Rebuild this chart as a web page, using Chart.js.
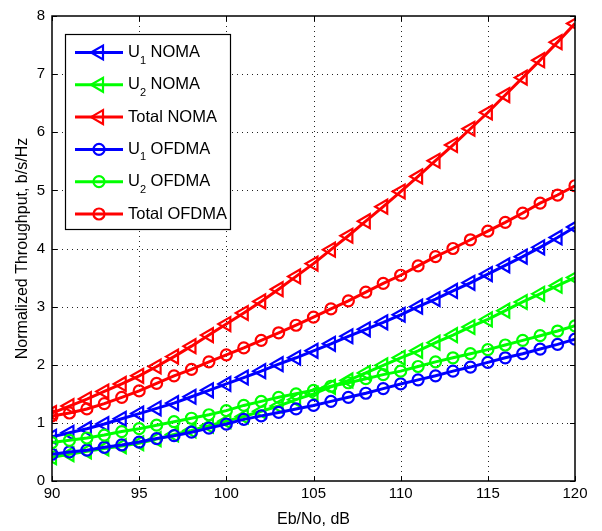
<!DOCTYPE html>
<html>
<head>
<meta charset="utf-8">
<script src="https://cdn.jsdelivr.net/npm/chart.js@4.4.0/dist/chart.umd.min.js"></script>
<style>
html,body{margin:0;padding:0;background:#fff;}
#wrap{width:602px;height:531px;}
</style>
</head>
<body>
<div id="wrap"><canvas id="c" width="602" height="531"></canvas></div>
<script>
const snr = [90,91,92,93,94,95,96,97,98,99,100,101,102,103,104,105,106,107,108,109,110,111,112,113,114,115,116,117,118,119,120];
const u1Noma = [0.76,0.83,0.90,0.98,1.07,1.16,1.25,1.34,1.45,1.56,1.67,1.78,1.89,2.01,2.12,2.24,2.36,2.49,2.61,2.73,2.86,3.00,3.13,3.27,3.41,3.56,3.71,3.86,4.02,4.19,4.37];
const u2Noma = [0.41,0.46,0.51,0.56,0.60,0.65,0.72,0.80,0.87,0.95,1.03,1.11,1.20,1.29,1.40,1.50,1.62,1.73,1.86,1.99,2.12,2.24,2.38,2.51,2.65,2.78,2.93,3.08,3.22,3.36,3.50];
const totalNoma = [1.17,1.29,1.41,1.54,1.67,1.81,1.97,2.14,2.32,2.51,2.70,2.89,3.09,3.30,3.52,3.74,3.98,4.22,4.47,4.72,4.98,5.24,5.51,5.78,6.06,6.34,6.64,6.94,7.24,7.55,7.87];
const u1Ofdma = [0.46,0.50,0.53,0.58,0.62,0.67,0.73,0.78,0.84,0.91,0.98,1.06,1.12,1.18,1.24,1.30,1.37,1.44,1.51,1.59,1.67,1.74,1.81,1.89,1.96,2.04,2.12,2.19,2.27,2.35,2.44];
const u2Ofdma = [0.66,0.70,0.74,0.79,0.85,0.90,0.96,1.02,1.08,1.14,1.21,1.30,1.37,1.44,1.50,1.56,1.63,1.69,1.76,1.83,1.89,1.97,2.05,2.12,2.19,2.26,2.34,2.42,2.50,2.58,2.67];
const totalOfdma = [1.12,1.17,1.24,1.33,1.44,1.55,1.68,1.81,1.92,2.05,2.17,2.29,2.42,2.55,2.68,2.82,2.96,3.10,3.25,3.40,3.54,3.70,3.86,4.00,4.15,4.30,4.45,4.61,4.78,4.92,5.08];
const xTicks = [90,95,100,105,110,115,120];
const yTicks = [0,1,2,3,4,5,6,7,8];

const labels = [["U","1"," NOMA"],["U","2"," NOMA"],["Total NOMA"],["U","1"," OFDMA"],["U","2"," OFDMA"],["Total OFDMA"]];
const series = [u1Noma,u2Noma,totalNoma,u1Ofdma,u2Ofdma,totalOfdma];
const colors = ['#0000ff','#00ff00','#ff0000','#0000ff','#00ff00','#ff0000'];
const FONT = '"Liberation Sans", Arial, Helvetica, sans-serif';

const datasets = series.map((s,i)=>{
  const tri = i < 3;
  return {
    label: labels[i].join(''),
    data: snr.map((x,k)=>({x:x,y:s[k]})),
    borderColor: colors[i],
    backgroundColor: 'rgba(0,0,0,0)',
    borderWidth: 3,
    pointStyle: tri ? 'triangle' : 'circle',
    pointRotation: tri ? -90 : 0,
    pointRadius: tri ? 8 : 5.5,
    pointBorderWidth: 2.2,
    pointBackgroundColor: 'rgba(0,0,0,0)',
    pointBorderColor: colors[i],
    tension: 0,
    order: 6 - i
  };
});

const frame = {
  id:'frame',
  beforeDatasetsDraw(chart){
    const ctx = chart.ctx, a = chart.chartArea;
    const xs = chart.scales.x, ys = chart.scales.y;
    ctx.save();
    ctx.strokeStyle = '#222';
    ctx.lineWidth = 1;
    ctx.setLineDash([1,4]);
    xTicks.slice(1,-1).forEach(v=>{
      const px = Math.round(xs.getPixelForValue(v))+0.5;
      ctx.beginPath(); ctx.moveTo(px,a.top); ctx.lineTo(px,a.bottom); ctx.stroke();
    });
    yTicks.slice(1,-1).forEach(v=>{
      const py = Math.round(ys.getPixelForValue(v))+0.5;
      ctx.beginPath(); ctx.moveTo(a.left,py); ctx.lineTo(a.right,py); ctx.stroke();
    });
    ctx.restore();
  },
  afterDraw(chart){
    const ctx = chart.ctx, a = chart.chartArea;
    const xs = chart.scales.x, ys = chart.scales.y;
    ctx.save();
    ctx.strokeStyle = '#000';
    ctx.lineWidth = 1.5;
    ctx.setLineDash([]);
    ctx.strokeRect(a.left, a.top, a.right-a.left, a.bottom-a.top);
    ctx.lineWidth = 1;
    const tl = 5;
    xTicks.forEach(v=>{
      const px = Math.round(xs.getPixelForValue(v))+0.5;
      ctx.beginPath();
      ctx.moveTo(px,a.bottom); ctx.lineTo(px,a.bottom-tl);
      ctx.moveTo(px,a.top); ctx.lineTo(px,a.top+tl);
      ctx.stroke();
    });
    yTicks.forEach(v=>{
      const py = Math.round(ys.getPixelForValue(v))+0.5;
      ctx.beginPath();
      ctx.moveTo(a.left,py); ctx.lineTo(a.left+tl,py);
      ctx.moveTo(a.right,py); ctx.lineTo(a.right-tl,py);
      ctx.stroke();
    });
    // legend
    const lx = 65, ly = 34, lw = 165, lh = 195;
    ctx.fillStyle = '#fff';
    ctx.fillRect(lx,ly,lw,lh);
    ctx.strokeStyle = '#000';
    ctx.lineWidth = 1.2;
    ctx.strokeRect(lx+0.5,ly+0.5,lw,lh);
    const step = 32.3;
    chart.data.datasets.forEach((ds,i)=>{
      const cy = ly + 18.5 + i*step;
      ctx.strokeStyle = ds.borderColor;
      ctx.lineWidth = 3;
      ctx.beginPath(); ctx.moveTo(lx+10,cy); ctx.lineTo(lx+58,cy); ctx.stroke();
      ctx.lineWidth = 2.2;
      ctx.fillStyle = 'rgba(0,0,0,0)';
      Chart.helpers.drawPoint(ctx,{pointStyle:ds.pointStyle,rotation:ds.pointRotation,radius:ds.pointRadius,borderWidth:2.2},lx+34,cy);
      ctx.fillStyle = '#000';
      ctx.textBaseline = 'middle';
      ctx.textAlign = 'left';
      let tx = lx + 63;
      const parts = labels[i];
      ctx.font = '16.5px '+FONT;
      if(parts.length === 1){
        ctx.fillText(parts[0],tx,cy);
      } else {
        ctx.fillText(parts[0],tx,cy);
        tx += ctx.measureText(parts[0]).width;
        ctx.font = '11px '+FONT;
        ctx.fillText(parts[1],tx,cy+8);
        tx += ctx.measureText(parts[1]).width;
        ctx.font = '16.5px '+FONT;
        ctx.fillText(parts[2],tx,cy);
      }
    });
    ctx.restore();
  }
};

new Chart(document.getElementById('c'),{
  type:'line',
  data:{datasets:datasets},
  options:{
    responsive:false,
    devicePixelRatio:1,
    animation:false,
    layout:{padding:{left:0,right:27,top:12,bottom:0}},
    plugins:{legend:{display:false},tooltip:{enabled:false}},
    scales:{
      x:{
        type:'linear', min:90, max:120,
        afterBuildTicks(s){ s.ticks = xTicks.map(v=>({value:v})); },
        afterFit(s){ s.height = 50; },
        grid:{display:false, drawTicks:false},
        border:{display:false},
        ticks:{color:'#000', padding:4, font:{family:FONT,size:15}, maxRotation:0},
        title:{display:true, text:'Eb/No, dB', color:'#000', font:{family:FONT,size:16}, padding:{top:0,bottom:2}}
      },
      y:{
        type:'linear', min:0, max:8,
        afterBuildTicks(s){ s.ticks = yTicks.map(v=>({value:v})); },
        afterFit(s){ s.width = 52; },
        grid:{display:false, drawTicks:false},
        border:{display:false},
        ticks:{color:'#000', padding:7, font:{family:FONT,size:15}},
        title:{display:true, text:'Normalized Throughput, b/s/Hz', color:'#000', font:{family:FONT,size:16}, padding:{top:13,bottom:0}}
      }
    }
  },
  plugins:[frame]
});
</script>
</body>
</html>
